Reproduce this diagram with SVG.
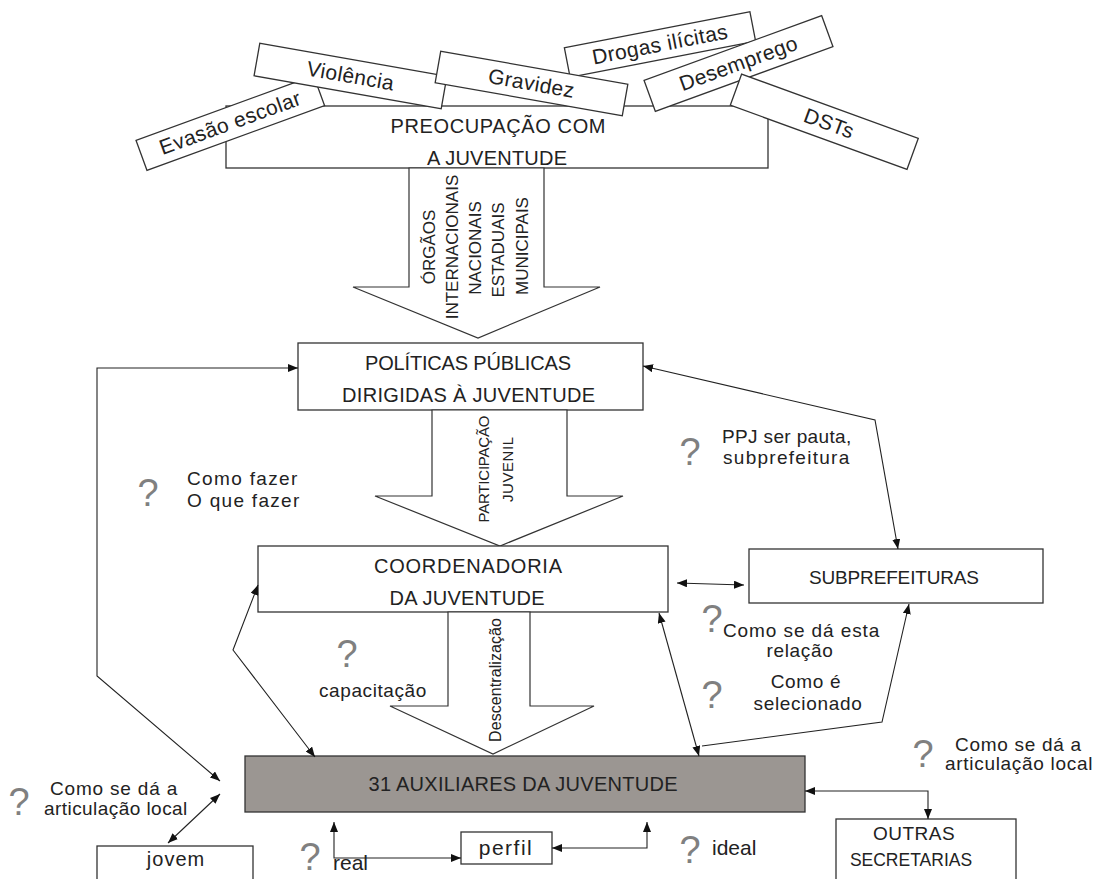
<svg xmlns="http://www.w3.org/2000/svg" width="1093" height="879" viewBox="0 0 1093 879">
<style>
.box{fill:#fff;stroke:#333;stroke-width:1.3}
.aux{fill:#9b9692;stroke:#333;stroke-width:1.3}
.shape{fill:#fff;stroke:#333;stroke-width:1.2}
.t{font-family:"Liberation Sans",Arial,sans-serif;fill:#222}
.lbl{font-size:20px;text-anchor:middle}
.tilt{font-size:21px;text-anchor:middle;letter-spacing:0.4px}
.ann{font-size:19px;letter-spacing:0.7px}
.annc{font-size:19px;letter-spacing:0.7px;text-anchor:middle}
.vt{font-size:17px;text-anchor:middle}
.q{font-family:"Liberation Sans",Arial,sans-serif;font-size:38px;fill:#808080;text-anchor:middle}
.con{fill:none;stroke:#222;stroke-width:1.1;marker-start:url(#ah);marker-end:url(#ah)}
.con1{fill:none;stroke:#222;stroke-width:1.1;marker-end:url(#ah)}
</style>
<defs>
<marker id="ah" viewBox="0 0 10 8" refX="10" refY="4" markerWidth="10" markerHeight="8" markerUnits="userSpaceOnUse" orient="auto-start-reverse">
<path d="M0,0 L10,4 L0,8 z" fill="#111"/>
</marker>
</defs>

<g id="preocupacao">
<rect class="box" x="226" y="106" width="542" height="62"/>
<text class="t lbl" x="498" y="133" textLength="215">PREOCUPAÇÃO COM</text>
<text class="t lbl" x="497" y="165" textLength="140">A JUVENTUDE</text>
</g>

<g id="evasao" transform="translate(230.3,123) rotate(-20)">
<rect class="box" x="-94.5" y="-16" width="189" height="32"/>
<text class="t tilt" x="0" y="7">Evasão escolar</text>
</g>
<g id="violencia" transform="translate(350.5,76) rotate(10)">
<rect class="box" x="-95" y="-16.5" width="190" height="33"/>
<text class="t tilt" x="0" y="7">Violência</text>
</g>
<g id="drogas" transform="translate(660,44.5) rotate(-11)">
<rect class="box" x="-94.5" y="-15" width="189" height="30"/>
<text class="t tilt" x="0" y="7">Drogas ilícitas</text>
</g>
<g id="gravidez" transform="translate(531.5,83.5) rotate(10)">
<rect class="box" x="-95" y="-16" width="190" height="32"/>
<text class="t tilt" x="0" y="7">Gravidez</text>
</g>
<g id="desemprego" transform="translate(738.5,63.5) rotate(-20)">
<rect class="box" x="-94.5" y="-16.5" width="189" height="33"/>
<text class="t tilt" x="0" y="7" letter-spacing="1.5">Desemprego</text>
</g>
<g id="dsts" transform="translate(824.3,121.8) rotate(20)">
<rect class="box" x="-94" y="-16.5" width="188" height="33"/>
<text class="t tilt" x="5" y="7">DSTs</text>
</g>

<g id="arrow-orgaos">
<polygon class="shape" points="409,168 409,287 353,287 478,338 600,287 544,287 544,168"/>
<text class="t vt" transform="translate(435,247) rotate(-90)">ÓRGÃOS</text>
<text class="t vt" transform="translate(458,247) rotate(-90)">INTERNACIONAIS</text>
<text class="t vt" transform="translate(481,248) rotate(-90)">NACIONAIS</text>
<text class="t vt" transform="translate(504,250) rotate(-90)">ESTADUAIS</text>
<text class="t vt" transform="translate(528,246) rotate(-90)">MUNICIPAIS</text>
</g>

<g id="politicas">
<rect class="box" x="298" y="343" width="345" height="67"/>
<text class="t lbl" x="468" y="370" textLength="206">POLÍTICAS PÚBLICAS</text>
<text class="t lbl" x="468.5" y="402" textLength="253">DIRIGIDAS À JUVENTUDE</text>
</g>

<g id="arrow-participacao">
<polygon class="shape" points="432,410 432,496 375,496 500,546 623,496 567,496 567,410"/>
<text class="t" font-size="15" text-anchor="middle" transform="translate(489,469) rotate(-90)" textLength="107">PARTICIPAÇÃO</text>
<text class="t" font-size="15" text-anchor="middle" transform="translate(513,469.5) rotate(-90)" textLength="65">JUVENIL</text>
</g>

<g id="coordenadoria">
<rect class="box" x="258" y="546" width="410" height="66"/>
<text class="t lbl" x="468" y="573" textLength="188">COORDENADORIA</text>
<text class="t lbl" x="467" y="605" textLength="155">DA JUVENTUDE</text>
</g>

<g id="arrow-descentralizacao">
<polygon class="shape" points="448,612 448,706 390,706 493,754 594,706 530,706 530,612"/>
<text class="t" font-size="16" text-anchor="middle" transform="translate(501,680) rotate(-90)" textLength="124">Descentralização</text>
</g>

<g id="subprefeituras">
<rect class="box" x="749" y="549" width="294" height="54"/>
<text class="t" font-size="19" text-anchor="middle" x="894" y="584" textLength="170">SUBPREFEITURAS</text>
</g>

<g id="auxiliares">
<rect class="aux" x="245" y="756" width="560" height="56"/>
<text class="t lbl" x="523" y="791" textLength="309">31 AUXILIARES DA JUVENTUDE</text>
</g>

<g id="jovem">
<rect class="box" x="97" y="846" width="156" height="40"/>
<text class="t" font-size="20" text-anchor="middle" letter-spacing="1" x="176" y="866">jovem</text>
</g>

<g id="perfil">
<rect class="box" x="461" y="832" width="91" height="32"/>
<text class="t" font-size="21" text-anchor="middle" letter-spacing="1.5" x="506" y="855">perfil</text>
</g>

<g id="outras">
<rect class="box" x="836" y="819" width="180" height="66"/>
<text class="t" font-size="19" text-anchor="middle" letter-spacing="0.5" x="914" y="840">OUTRAS</text>
<text class="t" font-size="17.5" text-anchor="middle" x="911" y="866">SECRETARIAS</text>
</g>

<g id="annotations">
<text class="q" x="148" y="506">?</text>
<text class="t ann" x="187" y="485" textLength="111">Como fazer</text>
<text class="t ann" x="187" y="507" textLength="113">O que fazer</text>

<text class="q" x="690" y="465">?</text>
<text class="t ann" x="722" y="443" textLength="130">PPJ ser pauta,</text>
<text class="t ann" x="723" y="464" textLength="127">subprefeitura</text>

<text class="q" x="347" y="667">?</text>
<text class="t ann" x="319" y="697" textLength="108">capacitação</text>

<text class="q" x="712" y="632">?</text>
<text class="t ann" x="723" y="637" textLength="157">Como se dá esta</text>
<text class="t annc" x="800" y="657">relação</text>

<text class="q" x="712" y="708">?</text>
<text class="t annc" x="806" y="688">Como é</text>
<text class="t annc" x="808" y="710" textLength="109">selecionado</text>

<text class="q" x="923" y="767">?</text>
<text class="t ann" x="955" y="751">Como se dá a</text>
<text class="t ann" x="945" y="770">articulação local</text>

<text class="q" x="19" y="815">?</text>
<text class="t ann" x="50" y="795" textLength="128">Como se dá a</text>
<text class="t ann" x="44" y="815" textLength="144">articulação local</text>

<text class="q" x="310" y="870" font-size="33">?</text>
<text class="t" font-size="21" x="333" y="870">real</text>

<text class="q" x="690" y="863">?</text>
<text class="t" font-size="21" x="712" y="855">ideal</text>
</g>

<g id="connectors">
<path class="con" d="M298,368 H97 V676 L220,781"/>
<path class="con" d="M258,585 L233,650 L315,757"/>
<path class="con" d="M659,613 L699,756"/>
<path class="con1" d="M702,746 L882,722 L909,604"/>
<path class="con" d="M643,366 L875,420 L898,549"/>
<path class="con" d="M677,583 L744,585"/>
<path class="con" d="M805,791 H928 V819"/>
<path class="con" d="M220,794 L168,843"/>
<path class="con" d="M334,822 V858 H461"/>
<path class="con" d="M647,822 V848 H552"/>
</g>
</svg>
